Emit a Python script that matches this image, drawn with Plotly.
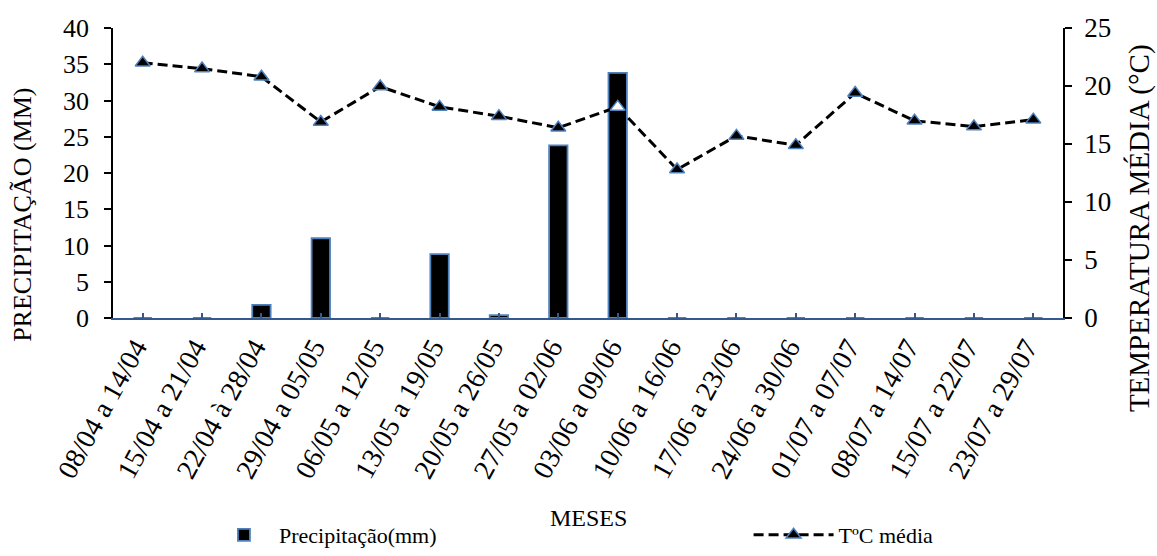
import plotly.graph_objects as go

categories = ["08/04 a 14/04", "15/04 a 21/04", "22/04 à 28/04", "29/04 a 05/05",
              "06/05 a 12/05", "13/05 a 19/05", "20/05 a 26/05", "27/05 a 02/06",
              "03/06 a 09/06", "10/06 a 16/06", "17/06 a 23/06", "24/06 a 30/06",
              "01/07 a 07/07", "08/07 a 14/07", "15/07 a 22/07", "23/07 a 29/07"]
precip = [0, 0, 1.8, 11, 0, 8.8, 0.4, 23.8, 33.8, 0, 0, 0, 0, 0, 0, 0]
temp = [22.0, 21.5, 20.8, 16.9, 19.95, 18.2, 17.4, 16.4, 18.2, 12.8, 15.7, 14.9, 19.4, 17.0, 16.5, 17.1]
marker_fill = ["black"] * 8 + ["white"] + ["black"] * 7

FONT = "Liberation Serif, 'Times New Roman', serif"
BLUE = "#4F81BD"
AXBLUE = "#34598F"

fig = go.Figure()
fig.add_trace(go.Bar(
    x=categories, y=precip, name="Precipitação(mm)",
    marker=dict(color="black", line=dict(color=BLUE, width=1.8)),
    width=0.31, yaxis="y", legend="legend"))
fig.add_trace(go.Scatter(
    x=categories, y=temp, name="TºC média", mode="lines+markers",
    line=dict(color="black", width=3, dash="10px,5px"),
    marker=dict(symbol="triangle-up", size=13, color=marker_fill,
                line=dict(color=BLUE, width=1.5)),
    yaxis="y2", legend="legend2"))

fig.update_layout(
    width=1157, height=556,
    margin=dict(l=113, r=94, t=28, b=238),
    paper_bgcolor="white", plot_bgcolor="white",
    font=dict(family=FONT, color="black", size=22),
    showlegend=True,
    legend=dict(orientation="h", xref="container", yref="container",
                x=0.1806, y=-0.008, xanchor="left", yanchor="bottom",
                font=dict(size=22, family=FONT), itemwidth=60),
    legend2=dict(orientation="h", xref="container", yref="container",
                 x=0.647, y=-0.008, xanchor="left", yanchor="bottom",
                 font=dict(size=22, family=FONT), itemwidth=80),
    xaxis=dict(type="category", range=[-0.5, len(categories) - 0.5],
               showline=True, linecolor=AXBLUE, linewidth=1.5,
               ticks="inside", ticklen=5, tickcolor=AXBLUE, tickwidth=1.5,
               tickangle=-61, tickfont=dict(size=28, family=FONT),
               ticklabelstandoff=0, ticklabelshift=-7,
               showgrid=False, automargin=False),
    yaxis=dict(range=[0, 40], dtick=5, showline=True, linecolor="black", linewidth=1.5,
               ticks="outside", ticklen=7, tickcolor="black", tickwidth=1.5,
               tickfont=dict(size=26, family=FONT), ticklabelstandoff=10,
               showgrid=False, zeroline=False, automargin=False),
    yaxis2=dict(range=[0, 25], dtick=5, overlaying="y", side="right", showline=True,
                linecolor="black", linewidth=1.5, ticks="outside", ticklen=7,
                tickcolor="black", tickwidth=1.5, tickfont=dict(size=27, family=FONT),
                ticklabelstandoff=7,
                showgrid=False, zeroline=False, automargin=False),
    bargap=0.69,
    annotations=[
        dict(text="MESES", xref="paper", yref="paper", x=0.5, y=-0.69,
             xanchor="center", yanchor="middle",
             showarrow=False, font=dict(size=24, family=FONT)),
        dict(text="PRECIPITAÇÃO (MM)", xref="paper", yref="paper", x=-0.096, y=0.355,
             xanchor="center", yanchor="middle",
             textangle=-90, showarrow=False, font=dict(size=26, family=FONT)),
        dict(text="TEMPERATURA MÉDIA (°C)", xref="paper", yref="paper", x=1.08, y=0.31,
             xanchor="center", yanchor="middle",
             textangle=-90, showarrow=False, font=dict(size=29, family=FONT)),
    ],
)

fig.write_html("out.html")
